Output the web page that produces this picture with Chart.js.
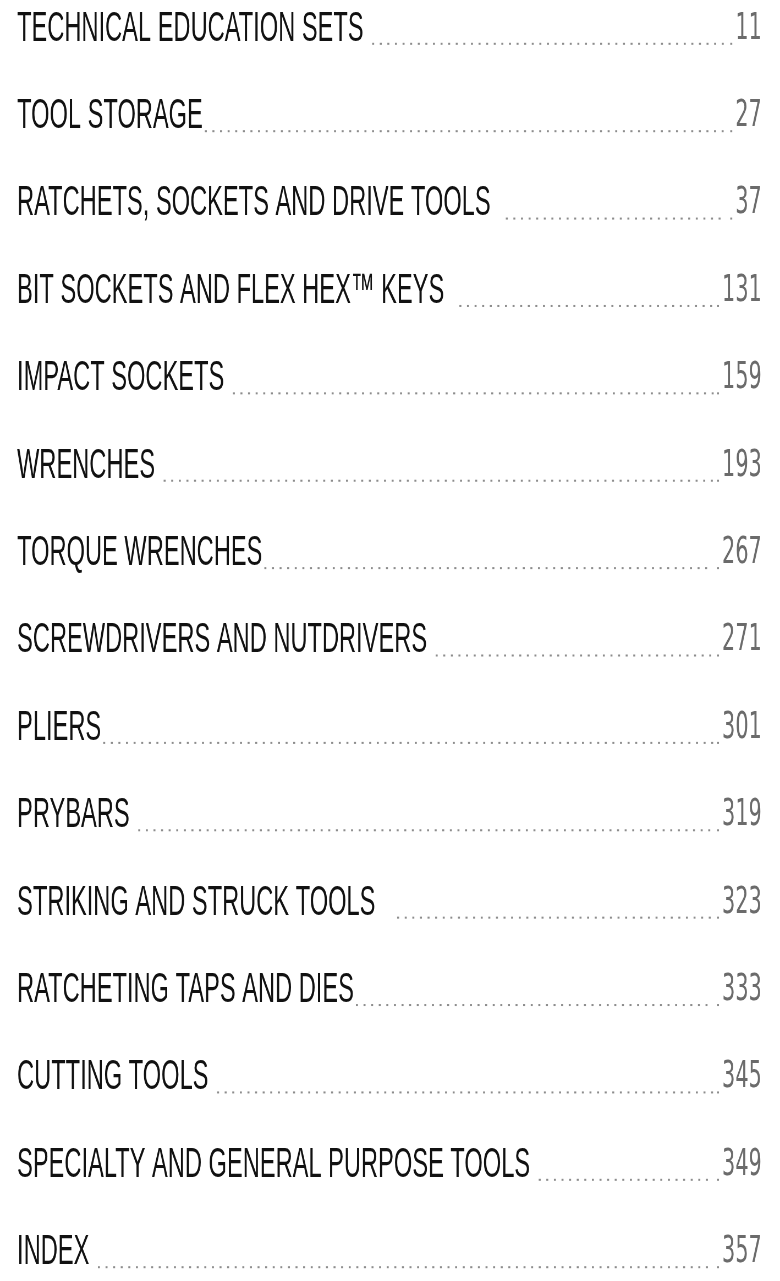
<!DOCTYPE html>
<html>
<head>
<meta charset="utf-8">
<script src="https://cdn.jsdelivr.net/npm/chart.js@4.4.1/dist/chart.umd.min.js"></script>
<style>
  html, body { margin: 0; padding: 0; background: #fff; overflow: hidden; }
</style>
</head>
<body>
<canvas id="toc" width="1418" height="1281" style="display:block;width:780px;height:1281px"></canvas>
<script>
    "use strict";

    // section titles (trailing spaces = gap before the leader dots)
    const sections = [
        'TECHNICAL EDUCATION SETS ',
        'TOOL STORAGE',
        'RATCHETS, SOCKETS AND DRIVE TOOLS  ',
        'BIT SOCKETS AND FLEX HEX\u2122 KEYS  ',
        'IMPACT SOCKETS ',
        'WRENCHES ',
        'TORQUE WRENCHES',
        'SCREWDRIVERS AND NUTDRIVERS ',
        'PLIERS',
        'PRYBARS ',
        'STRIKING AND STRUCK TOOLS   ',
        'RATCHETING TAPS AND DIES',
        'CUTTING TOOLS ',
        'SPECIALTY AND GENERAL PURPOSE TOOLS ',
        'INDEX '
    ];
    const pages = [11, 27, 37, 131, 159, 193, 267, 271, 301, 319, 323, 333, 345, 349, 357];
    const pageLabels = pages.map(String);

    const titleFont = { family: "'Liberation Sans', Arial, sans-serif", size: 43 };
    const pageFont = { family: "'DejaVu Sans', sans-serif", size: 38 };

    // canvas is drawn wide and squeezed to 780px by css -> condensed type
    const squeeze = 780 / 1418;

    /* dotted leaders between title and page number */
    const leaders = {
        id: 'leaders',
        afterDraw(chart) {
            const ctx = chart.ctx;
            const yl = chart.scales.y;
            const yr = chart.scales.y2;
            const step = 7.6 / squeeze;
            const dotW = 2 / squeeze;
            ctx.save();
            ctx.fillStyle = '#8c8c8c';
            sections.forEach((s, i) => {
                const y = yl.getPixelForTick(i) + 14;
                ctx.font = Chart.helpers.toFont(titleFont).string;
                const x0 = yl.left + ctx.measureText(s).width + 2 / squeeze;
                ctx.font = Chart.helpers.toFont(pageFont).string;
                const x1 = yr.right - ctx.measureText(pageLabels[i]).width - 3 / squeeze - dotW;
                let x = x0;
                for (; x <= x1 - step * 0.6; x += step) {
                    ctx.fillRect(x, y, dotW, 2);
                }
                ctx.fillRect(x1, y, dotW, 2);
            });
            ctx.restore();
        }
    };

    const ctx = document.getElementById('toc').getContext('2d');
    const chart = new Chart(ctx, {
        type: 'bar',
        data: {
            labels: sections,
            datasets: [{
                label: 'Page',
                data: pages,
                backgroundColor: 'rgba(0,0,0,0)',
                borderWidth: 0
            }]
        },
        options: {
            indexAxis: 'y',
            responsive: false,
            devicePixelRatio: 1,
            animation: false,
            layout: {
                padding: { left: 31, right: 33, top: 28, bottom: 18 }
            },
            plugins: {
                legend: { display: false },
                tooltip: { enabled: false }
            },
            scales: {
                x: { display: false, min: 0, max: 400 },
                y: {
                    position: 'left',
                    offset: false,
                    grid: { display: false },
                    border: { display: false },
                    afterFit(scale) { scale.width = 1200; },
                    ticks: {
                        autoSkip: false,
                        crossAlign: 'far',
                        color: '#111111',
                        font: titleFont
                    }
                },
                y2: {
                    type: 'category',
                    labels: pageLabels,
                    position: 'right',
                    offset: false,
                    grid: { display: false },
                    border: { display: false },
                    afterFit(scale) { scale.width = 120; },
                    ticks: {
                        autoSkip: false,
                        crossAlign: 'far',
                        color: '#6b6b6b',
                        font: pageFont
                    }
                }
            }
        },
        plugins: [leaders]
    });
</script>
</body>
</html>
